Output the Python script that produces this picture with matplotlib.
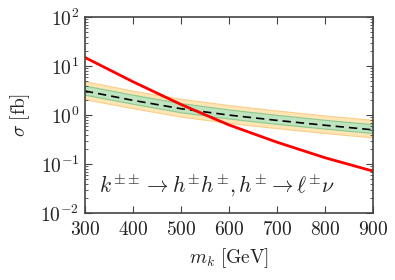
import numpy as np
import matplotlib
matplotlib.use('Agg')
from matplotlib import pyplot as plt
from matplotlib.ticker import FixedLocator, FixedFormatter, LogLocator, NullFormatter

plt.rcParams['mathtext.fontset'] = 'cm'
plt.rcParams['font.family'] = 'serif'
plt.rcParams['font.serif'] = ['DejaVu Serif']

# signal cross section (red)
mass = [300, 400, 500, 600, 700, 800, 900]
sigma_signal = [15.0, 4.8, 1.65, 0.63, 0.28, 0.135, 0.072]

# expected limit with 1 and 2 sigma bands
lim_mass = [300, 400, 500, 600, 700, 800, 900]
lim_median = [3.1, 2.0, 1.35, 1.0, 0.78, 0.62, 0.5]
lim_1up = [4.0, 2.6, 1.75, 1.3, 1.01, 0.8, 0.65]
lim_1dn = [2.6, 1.7, 1.14, 0.85, 0.66, 0.53, 0.43]
lim_2up = [4.9, 3.15, 2.15, 1.6, 1.24, 0.98, 0.8]
lim_2dn = [2.1, 1.38, 0.93, 0.69, 0.54, 0.43, 0.35]

xticks = [300, 400, 500, 600, 700, 800, 900]
yexps = [-2, -1, 0, 1, 2]

fig = plt.figure(figsize=(3.95, 2.8), dpi=100)
ax = fig.add_axes([0.215, 0.239, 0.729, 0.70])

ax.fill_between(lim_mass, lim_2dn, lim_2up, color='#fde5b5', edgecolor='#f8cf8a', lw=0.8)
ax.fill_between(lim_mass, lim_1dn, lim_1up, color='#bde3bf', edgecolor='#8cc98f', lw=0.8)
ax.plot(lim_mass, lim_median, color='black', ls=(0, (5, 3)), lw=1.2)
ax.plot(mass, sigma_signal, color='red', lw=2)

ax.set_yscale('log')
ax.set_xlim(300, 900)
ax.set_ylim(1e-2, 1e2)

ax.xaxis.set_major_locator(FixedLocator(xticks))
ax.xaxis.set_major_formatter(FixedFormatter([r'$%d$' % v for v in xticks]))
ax.yaxis.set_major_locator(FixedLocator([10.0 ** e for e in yexps]))
ax.yaxis.set_major_formatter(FixedFormatter([r'$10^{%d}$' % e for e in yexps]))
ax.yaxis.set_minor_locator(LogLocator(base=10, subs=np.arange(2, 10), numticks=10))
ax.yaxis.set_minor_formatter(NullFormatter())

ax.tick_params(which='both', direction='in', top=True, right=True,
               labelsize=14, colors='#444444', labelcolor='#222222')
ax.tick_params(axis='x', which='major', length=5, pad=6)
ax.tick_params(axis='y', which='major', length=5, pad=4)
ax.tick_params(which='minor', length=2.5)
for s in ax.spines.values():
    s.set_color('#444444')
    s.set_linewidth(1.2)

ax.set_xlabel(r'$m_k\ [\mathrm{GeV}]$', fontsize=14, labelpad=5, color='#222222')
ax.set_ylabel(r'$\sigma\ [\mathrm{fb}]$', fontsize=14, labelpad=6, color='#222222')

ax.text(0.05, 0.14, r'$k^{\pm\pm}\rightarrow h^{\pm}h^{\pm}, h^{\pm}\rightarrow \ell^{\pm}\nu$',
        transform=ax.transAxes, fontsize=15.5, va='center', ha='left', color='#222222')

fig.savefig('out.png', dpi=100)
